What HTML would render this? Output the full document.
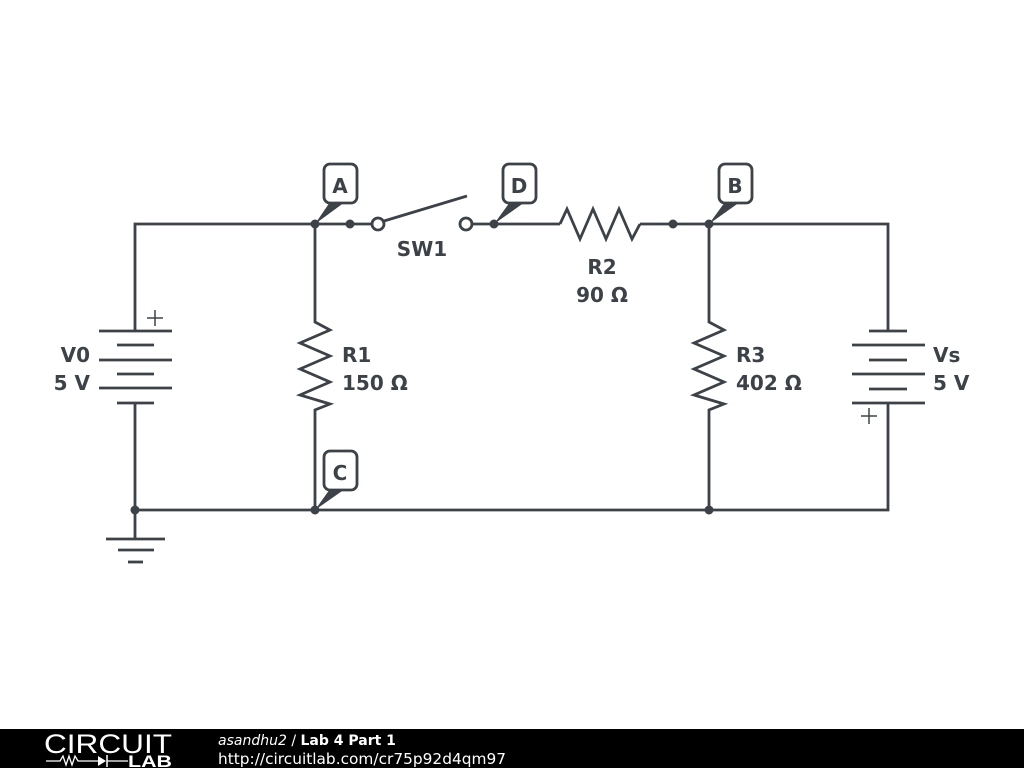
<!DOCTYPE html>
<html><head><style>
body{margin:0;width:1024px;height:768px;background:#fff;overflow:hidden;font-family:"Liberation Sans",sans-serif}
svg{position:absolute;top:0;left:0}
.t{font-family:"DejaVu Sans","Liberation Sans",sans-serif;font-weight:bold;font-size:20px;fill:#3c4247}
</style></head><body>
<svg width="1024" height="768" viewBox="0 0 1024 768">
<g stroke="#3c4247" stroke-width="2.8" fill="none" stroke-linecap="butt">
<polyline points="135,331 135,224 378,224"/>
<line x1="466" y1="224" x2="560" y2="224"/>
<polyline points="640,224 888,224 888,331"/>
<line x1="384" y1="221" x2="467" y2="196"/>
<polyline points="560,224 567,209 580,239 593,209 606,239 619,209 632,239 640,224"/>
<line x1="99" y1="331" x2="172" y2="331"/>
<line x1="117" y1="345" x2="154" y2="345"/>
<line x1="99" y1="360" x2="172" y2="360"/>
<line x1="117" y1="374" x2="154" y2="374"/>
<line x1="99" y1="388" x2="172" y2="388"/>
<line x1="117" y1="403" x2="154" y2="403"/>
<polyline points="135,403 135,510 888,510 888,403"/>
<line x1="147" y1="318" x2="163" y2="318" stroke-width="1.5"/><line x1="155" y1="310" x2="155" y2="326" stroke-width="1.5"/>
<line x1="135" y1="510" x2="135" y2="539"/>
<line x1="106" y1="539" x2="165" y2="539"/>
<line x1="118" y1="550" x2="154" y2="550"/>
<line x1="128" y1="562" x2="143" y2="562"/>
<line x1="869" y1="331" x2="907" y2="331"/>
<line x1="852" y1="345" x2="925" y2="345"/>
<line x1="869" y1="360" x2="907" y2="360"/>
<line x1="852" y1="374" x2="925" y2="374"/>
<line x1="869" y1="389" x2="907" y2="389"/>
<line x1="852" y1="403" x2="925" y2="403"/>
<line x1="861" y1="416" x2="877" y2="416" stroke-width="1.5"/><line x1="869" y1="408" x2="869" y2="424" stroke-width="1.5"/>
<polyline points="315,224 315,322 330,330 300,343 330,356 300,369 330,382 300,395 330,404 315,410 315,510"/>
<polyline points="709,224 709,322 724,330 694,343 724,356 694,369 724,382 694,395 724,404 709,410 709,510"/>
<circle cx="378" cy="224" r="6" fill="#fff"/>
<circle cx="466" cy="224" r="6" fill="#fff"/>
<rect x="324" y="164" width="33" height="39" rx="6" fill="#fff"/>
<rect x="503" y="164" width="33" height="39" rx="6" fill="#fff"/>
<rect x="719" y="164" width="33" height="39" rx="6" fill="#fff"/>
<rect x="324" y="451" width="33" height="39" rx="6" fill="#fff"/>
</g>
<g fill="#3c4247">
<polygon points="315,224 330,202 345,202"/>
<polygon points="494,224 510,202 525,202"/>
<polygon points="709,224 725,202 740,202"/>
<polygon points="315,510 330,489 345,489"/>
<circle cx="315" cy="224" r="4.5"/><circle cx="350" cy="224" r="4.5"/>
<circle cx="494" cy="224" r="4.5"/><circle cx="673" cy="224" r="4.5"/>
<circle cx="709" cy="224" r="4.5"/><circle cx="135" cy="510" r="4.5"/>
<circle cx="315" cy="510" r="4.5"/><circle cx="709" cy="510" r="4.5"/>
</g>
<text class="t" x="340" y="193" text-anchor="middle">A</text>
<text class="t" x="519" y="193" text-anchor="middle">D</text>
<text class="t" x="735" y="193" text-anchor="middle">B</text>
<text class="t" x="340" y="480" text-anchor="middle">C</text>
<text class="t" x="422" y="256" text-anchor="middle">SW1</text>
<text class="t" x="602" y="274" text-anchor="middle">R2</text>
<text class="t" x="602" y="302" text-anchor="middle">90 Ω</text>
<text class="t" x="342" y="362">R1</text>
<text class="t" x="342" y="390">150 Ω</text>
<text class="t" x="736" y="362">R3</text>
<text class="t" x="736" y="390">402 Ω</text>
<text class="t" x="90" y="362" text-anchor="end">V0</text>
<text class="t" x="90" y="390" text-anchor="end">5 V</text>
<text class="t" x="933" y="362">Vs</text>
<text class="t" x="933" y="390">5 V</text>
<rect x="0" y="729" width="1024" height="39" fill="#000"/>
<text x="44" y="753" fill="#fff" font-family="Liberation Sans" font-size="27" textLength="128" lengthAdjust="spacingAndGlyphs">CIRCUIT</text>
<polyline points="46,761 60,761 63,756 66,765 69,756 72,765 75,756 78,761 98,761" stroke="#fff" stroke-width="1.3" fill="none"/>
<polygon points="98,756 98,766 106,761" fill="#fff"/><line x1="107" y1="755" x2="107" y2="767" stroke="#fff" stroke-width="1.5"/>
<line x1="107" y1="761" x2="128" y2="761" stroke="#fff" stroke-width="1.3"/>
<text x="128" y="767" fill="#fff" font-family="Liberation Sans" font-weight="bold" font-size="17" textLength="44" lengthAdjust="spacingAndGlyphs">LAB</text>
<text x="218" y="745" fill="#fff" font-family="DejaVu Sans" font-size="14"><tspan font-style="italic">asandhu2</tspan> / <tspan font-weight="bold">Lab 4 Part 1</tspan></text>
<text x="218" y="764" fill="#fff" font-family="DejaVu Sans" font-size="15" textLength="288" lengthAdjust="spacingAndGlyphs">http://circuitlab.com/cr75p92d4qm97</text>
</svg>
</body></html>
